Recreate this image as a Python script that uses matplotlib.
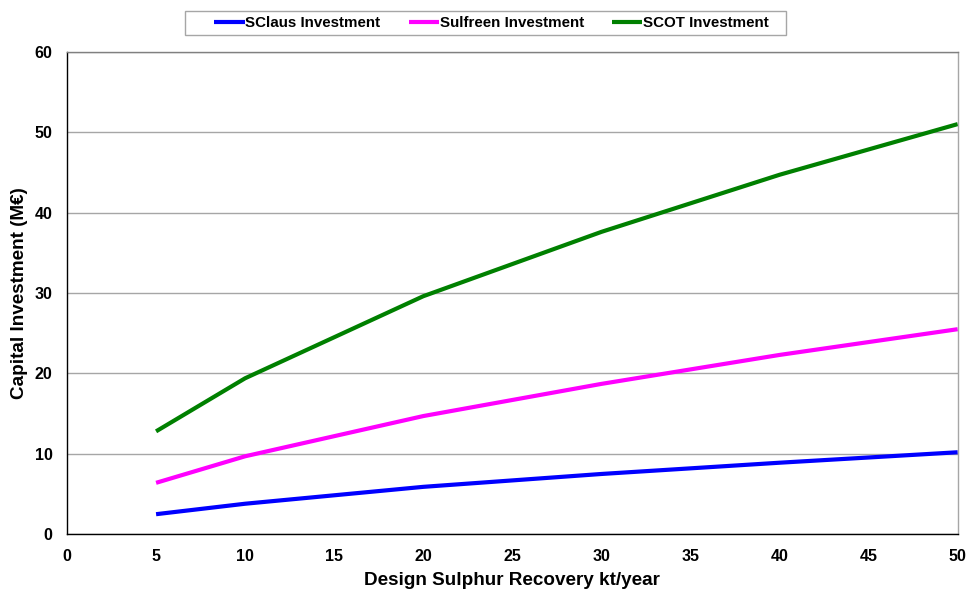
import matplotlib.pyplot as plt
from matplotlib.patches import Rectangle

plt.rcParams['font.family'] = ['Liberation Sans', 'DejaVu Sans']
plt.rcParams['font.weight'] = 'bold'

# design capacity kt/year
recovery = [5, 10, 20, 30, 40, 50]
sclaus = [2.5, 3.8, 5.9, 7.5, 8.9, 10.2]
sulfreen = [6.4, 9.7, 14.7, 18.7, 22.3, 25.5]
scot = [12.8, 19.4, 29.6, 37.6, 44.7, 51.0]

series = ['SClaus Investment', 'Sulfreen Investment', 'SCOT Investment']
colors = ['#0000ff', '#ff00ff', '#008000']

W, H = 969, 589
fig = plt.figure(figsize=(W / 100, H / 100), dpi=100)
ax = fig.add_axes([67 / W, (H - 534.3) / H, (957.7 - 67) / W, (534.3 - 51.7) / H])

for vals, name, c in zip([sclaus, sulfreen, scot], series, colors):
    ax.plot(recovery, vals, color=c, lw=3, label=name, solid_capstyle='butt')

ax.set_xlim(0, 50)
ax.set_ylim(0, 60)
ax.set_xticks(range(0, 51, 5))
ax.set_yticks(range(0, 61, 10))
ax.tick_params(length=0, labelsize=11.5)
ax.tick_params(axis='y', pad=10.5)
ax.tick_params(axis='x', pad=10.5)
ax.yaxis.grid(True, color='#a6a6a6', lw=1)
ax.set_axisbelow(True)

ax.spines['left'].set_color('black')
ax.spines['bottom'].set_color('black')
ax.spines['top'].set_color('#808080')
ax.spines['right'].set_color('#a6a6a6')
for s in ax.spines.values():
    s.set_linewidth(1)

ax.set_xlabel('Design Sulphur Recovery kt/year', fontsize=13.6, fontweight='bold', labelpad=6)
ax.set_ylabel('Capital Investment (M€)', fontsize=13.6, fontweight='bold', labelpad=5)

# legend box drawn separately so the padding matches
fig.patches.append(Rectangle((185 / W, 1 - 35 / H), (786 - 185) / W, 24 / H,
                             transform=fig.transFigure, fill=False,
                             edgecolor='#a6a6a6', lw=1))
leg = fig.legend(loc='center', bbox_to_anchor=(491.5 / W, 1 - 23 / H), ncol=3,
                 frameon=False, fontsize=10.9, handlelength=2.0,
                 handletextpad=0.05, columnspacing=1.85, borderpad=0.2)
for t in leg.get_texts():
    t.set_fontweight('bold')

fig.savefig('out.png', dpi=100)
